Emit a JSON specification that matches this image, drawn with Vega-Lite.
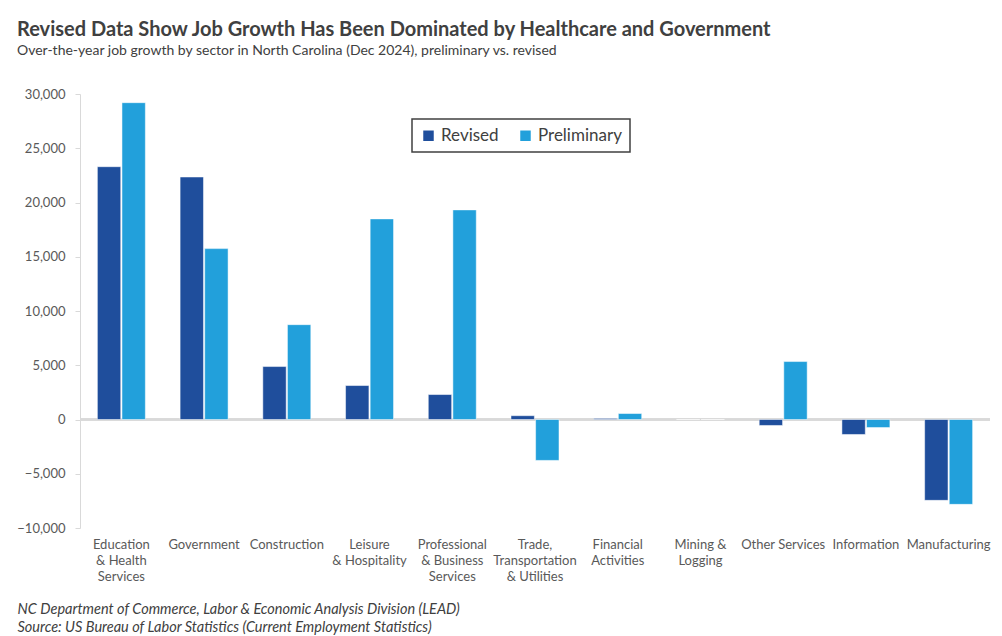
{
  "$schema": "https://vega.github.io/schema/vega-lite/v6.json",
  "width": 910,
  "height": 434,
  "autosize": {"type": "none"},
  "padding": {"left": 80, "top": 94, "right": 12, "bottom": 108},
  "background": "white",
  "config": {
    "font": "Lato, sans-serif",
    "view": {"stroke": null},
    "legend": {"strokeWidth": 1.5}
  },
  "title": {
    "text": "Revised Data Show Job Growth Has Been Dominated by Healthcare and Government",
    "subtitle": "Over-the-year  job growth by sector in North Carolina (Dec 2024), preliminary vs. revised",
    "anchor": "start",
    "frame": "group",
    "dx": -63,
    "offset": 30,
    "fontSize": 20,
    "fontWeight": "bold",
    "color": "#404040",
    "subtitleFontSize": 14,
    "subtitleColor": "#404040",
    "subtitlePadding": 4
  },
  "data": {
    "values": [
      {"sector": "Education|& Health|Services", "series": "Revised", "value": 23300},
      {"sector": "Education|& Health|Services", "series": "Preliminary", "value": 29200},
      {"sector": "Government", "series": "Revised", "value": 22350},
      {"sector": "Government", "series": "Preliminary", "value": 15750},
      {"sector": "Construction", "series": "Revised", "value": 4880},
      {"sector": "Construction", "series": "Preliminary", "value": 8740},
      {"sector": "Leisure|& Hospitality", "series": "Revised", "value": 3130},
      {"sector": "Leisure|& Hospitality", "series": "Preliminary", "value": 18490},
      {"sector": "Professional|& Business|Services", "series": "Revised", "value": 2300},
      {"sector": "Professional|& Business|Services", "series": "Preliminary", "value": 19320},
      {"sector": "Trade,|Transportation|& Utilities", "series": "Revised", "value": 350},
      {"sector": "Trade,|Transportation|& Utilities", "series": "Preliminary", "value": -3770},
      {"sector": "Financial|Activities", "series": "Revised", "value": 100},
      {"sector": "Financial|Activities", "series": "Preliminary", "value": 550},
      {"sector": "Mining &|Logging", "series": "Revised", "value": 0},
      {"sector": "Mining &|Logging", "series": "Preliminary", "value": 0},
      {"sector": "Other Services", "series": "Revised", "value": -550},
      {"sector": "Other Services", "series": "Preliminary", "value": 5340},
      {"sector": "Information", "series": "Revised", "value": -1380},
      {"sector": "Information", "series": "Preliminary", "value": -740},
      {"sector": "Manufacturing", "series": "Revised", "value": -7450},
      {"sector": "Manufacturing", "series": "Preliminary", "value": -7820}
    ]
  },
  "layer": [
    {
      "mark": {"type": "rule", "color": "#D9D9D9", "strokeWidth": 2},
      "encoding": {"y": {"datum": 0, "type": "quantitative"}}
    },
    {
      "mark": {"type": "bar", "stroke": "white", "strokeWidth": 0.5},
      "encoding": {
        "x": {
          "field": "sector",
          "type": "nominal",
          "sort": null,
          "scale": {"paddingInner": 0.42, "paddingOuter": 0.21},
          "axis": {
            "orient": "bottom",
            "labelAngle": 0,
            "labelExpr": "split(datum.label, '|')",
            "labelBaseline": "top",
            "labelPadding": 10,
            "labelLineHeight": 16,
            "labelFontSize": 13,
            "labelColor": "#595959",
            "labelLimit": 200,
            "ticks": false,
            "domain": false,
            "title": ["NC Department of Commerce, Labor & Economic Analysis Division (LEAD)", "Source: US Bureau of Labor Statistics (Current Employment Statistics)"],
            "titleAnchor": "start",
            "titleAlign": "left",
            "titleBaseline": "top",
            "titleX": -63,
            "titleY": 74,
            "titleFontSize": 14.5,
            "titleFontStyle": "italic",
            "titleFontWeight": "normal",
            "titleColor": "#404040",
            "titleLineHeight": 18
          }
        },
        "xOffset": {"field": "series", "type": "nominal", "sort": ["Revised", "Preliminary"], "scale": {"paddingInner": 0.05}},
        "y": {
          "field": "value",
          "type": "quantitative",
          "scale": {"domain": [-10000, 30000], "nice": false},
          "axis": {
            "values": [-10000, -5000, 0, 5000, 10000, 15000, 20000, 25000, 30000],
            "format": ",.0f",
            "title": null,
            "grid": false,
            "domainColor": "#D9D9D9",
            "tickColor": "#D9D9D9",
            "tickSize": 5,
            "labelPadding": 10,
            "labelFontSize": 13,
            "labelColor": "#595959"
          }
        },
        "color": {
          "field": "series",
          "type": "nominal",
          "sort": ["Revised", "Preliminary"],
          "scale": {"domain": ["Revised", "Preliminary"], "range": ["#1F4E9C", "#22A0DB"]},
          "legend": {
            "title": null,
            "orient": "none",
            "legendX": 332,
            "legendY": 25,
            "direction": "horizontal",
            "strokeColor": "#404040",
            "padding": 8,
            "symbolType": "square",
            "symbolSize": 110,
            "symbolStrokeWidth": 0,
            "labelFontSize": 17,
            "labelColor": "#404040",
            "columnPadding": 18
          }
        }
      }
    }
  ]
}
